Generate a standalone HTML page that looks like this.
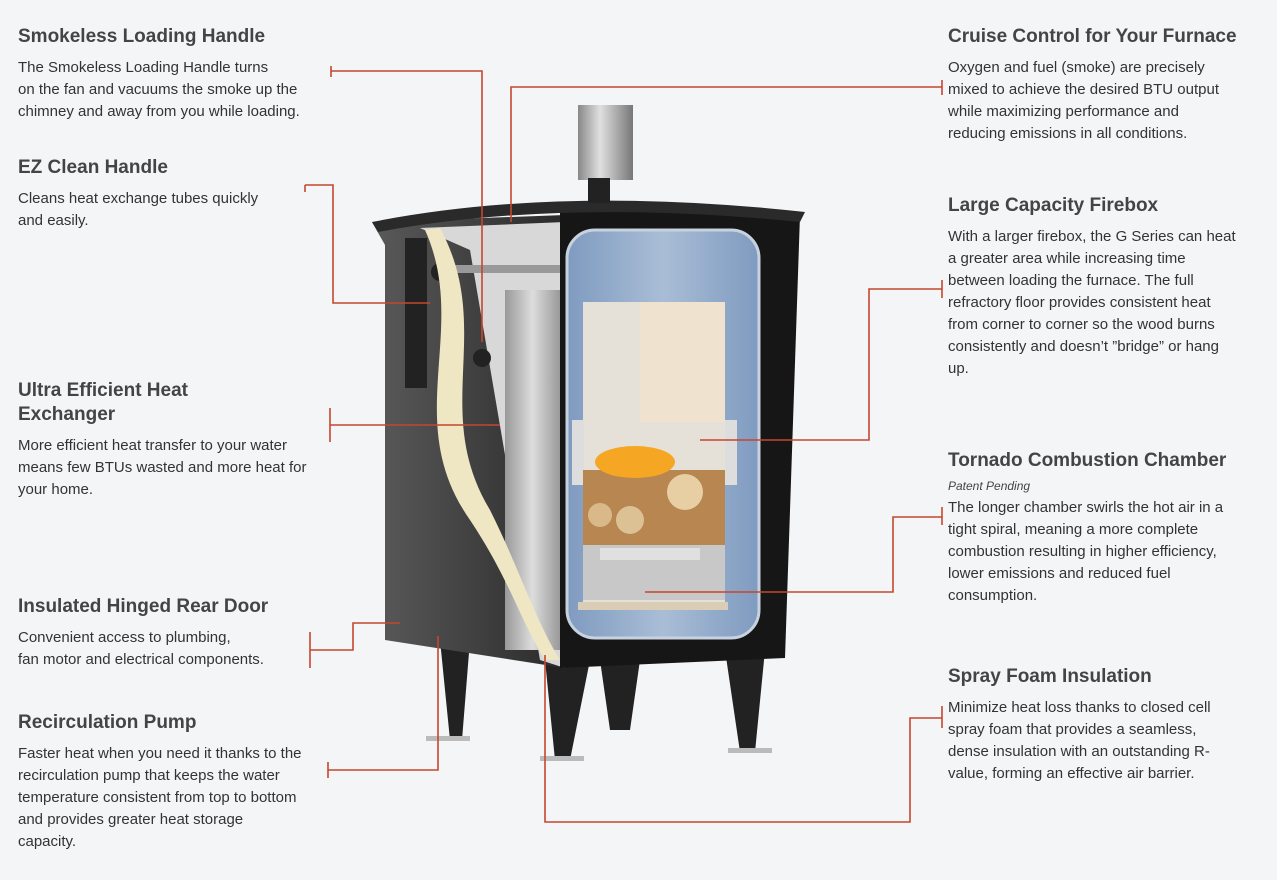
<!DOCTYPE html>
<html><head><meta charset="utf-8"><style>
body{margin:0;width:1277px;height:880px;background:#f4f5f7;font-family:"Liberation Sans",sans-serif;color:#3a3a3a;position:relative;overflow:hidden}
.b{position:absolute;width:320px}
h3{margin:0 0 8px;font-size:19px;font-weight:bold;color:#444;line-height:24px}
p{margin:0;font-size:15px;line-height:22px;color:#333}
i{font-size:12px;display:block;margin:-2px 0 4px;color:#444}
svg{position:absolute;left:0;top:0}
</style></head><body>
<svg width="1277" height="880">
<defs>
<linearGradient id="side" x1="0" x2="1"><stop offset="0" stop-color="#5a5a5a"/><stop offset="1" stop-color="#2a2a2a"/></linearGradient>
<linearGradient id="chim" x1="0" x2="1"><stop offset="0" stop-color="#888"/><stop offset=".4" stop-color="#e0e0e0"/><stop offset="1" stop-color="#777"/></linearGradient>
<linearGradient id="tube" x1="0" x2="1"><stop offset="0" stop-color="#999"/><stop offset=".5" stop-color="#ddd"/><stop offset="1" stop-color="#999"/></linearGradient>
<linearGradient id="win" x1="0" x2="1"><stop offset="0" stop-color="#7f9bc0"/><stop offset=".5" stop-color="#a9bdd6"/><stop offset="1" stop-color="#7f9bc0"/></linearGradient>
</defs>
<!-- legs -->
<polygon points="440,640 470,640 462,740 450,740" fill="#222"/>
<rect x="426" y="736" width="44" height="5" fill="#bbb"/>
<polygon points="545,660 590,660 570,760 555,760" fill="#222"/>
<rect x="540" y="756" width="44" height="5" fill="#bbb"/>
<polygon points="600,660 640,660 630,730 610,730" fill="#222"/>
<polygon points="725,650 765,650 755,752 740,752" fill="#222"/>
<rect x="728" y="748" width="44" height="5" fill="#bbb"/>
<!-- side panel -->
<polygon points="372,222 565,215 565,668 385,640 385,245" fill="url(#side)"/>
<rect x="405" y="238" width="22" height="150" fill="#222"/>
<!-- cutaway interior -->
<polygon points="420,228 565,222 565,668 540,660 470,250" fill="#d8d8d8"/>
<rect x="505" y="290" width="55" height="360" fill="url(#tube)"/>
<rect x="440" y="265" width="120" height="8" fill="#999"/>
<circle cx="440" cy="272" r="9" fill="#222"/>
<circle cx="482" cy="358" r="9" fill="#222"/>
<path d="M425,230 C470,330 400,420 470,520 C510,580 520,620 545,660 L560,660 C535,620 520,570 490,510 C430,410 495,330 440,228 Z" fill="#efe6c4"/>
<!-- front -->
<polygon points="560,205 800,215 785,658 560,668" fill="#161616"/>
<path d="M372,222 Q560,185 805,212 L800,222 Q560,198 378,232 Z" fill="#2a2a2a"/>
<rect x="567" y="230" width="192" height="408" rx="28" fill="url(#win)" stroke="#c8d2de" stroke-width="3"/>
<rect x="583" y="302" width="142" height="300" fill="#e6e1d8"/>
<rect x="640" y="302" width="85" height="120" fill="#efe3cf"/>
<rect x="572" y="420" width="12" height="65" fill="#ddd"/>
<rect x="725" y="420" width="12" height="65" fill="#ddd"/>
<rect x="583" y="470" width="142" height="75" fill="#b88650"/>
<circle cx="685" cy="492" r="18" fill="#e8cfa3"/>
<circle cx="630" cy="520" r="14" fill="#dcc194"/>
<circle cx="600" cy="515" r="12" fill="#d9b98a"/>
<ellipse cx="635" cy="462" rx="40" ry="16" fill="#f5a623"/>
<rect x="583" y="545" width="142" height="55" fill="#c8c8c8"/>
<rect x="600" y="548" width="100" height="12" fill="#e0e0e0"/>
<rect x="578" y="602" width="150" height="8" fill="#d9cdb5"/>
<!-- chimney -->
<rect x="578" y="105" width="55" height="75" fill="url(#chim)"/>
<rect x="588" y="178" width="22" height="25" fill="#222"/>
</svg>
<svg width="1277" height="880" fill="none" stroke="#c4472f" stroke-width="1.6">
<path d="M331,66V77M331,71H482V342"/>
<path d="M305,185H333V303H430M305,185V192"/>
<path d="M330,408V442M330,425H500"/>
<path d="M310,632V668M310,650H353V623H400"/>
<path d="M328,762V778M328,770H438V636"/>
<path d="M942,80V95M942,87H511V222"/>
<path d="M942,280V298M942,289H869V440H700"/>
<path d="M942,507V525M942,517H893V592H645"/>
<path d="M942,706V728M942,718H910V822H545V655"/>
</svg>
<div class="b" style="left:18px;top:25px"><h3>Smokeless Loading Handle</h3><p>The Smokeless Loading Handle turns<br>on the fan and vacuums the smoke up the<br>chimney and away from you while loading.</p></div>
<div class="b" style="left:18px;top:156px"><h3>EZ Clean Handle</h3><p>Cleans heat exchange tubes quickly<br>and easily.</p></div>
<div class="b" style="left:18px;top:379px"><h3>Ultra Efficient Heat<br>Exchanger</h3><p>More efficient heat transfer to your water<br>means few BTUs wasted and more heat for<br>your home.</p></div>
<div class="b" style="left:18px;top:595px"><h3>Insulated Hinged Rear Door</h3><p>Convenient access to plumbing,<br>fan motor and electrical components.</p></div>
<div class="b" style="left:18px;top:711px"><h3>Recirculation Pump</h3><p>Faster heat when you need it thanks to the<br>recirculation pump that keeps the water<br>temperature consistent from top to bottom<br>and provides greater heat storage<br>capacity.</p></div>
<div class="b" style="left:948px;top:25px"><h3>Cruise Control for Your Furnace</h3><p>Oxygen and fuel (smoke) are precisely<br>mixed to achieve the desired BTU output<br>while maximizing performance and<br>reducing emissions in all conditions.</p></div>
<div class="b" style="left:948px;top:194px"><h3>Large Capacity Firebox</h3><p>With a larger firebox, the G Series can heat<br>a greater area while increasing time<br>between loading the furnace. The full<br>refractory floor provides consistent heat<br>from corner to corner so the wood burns<br>consistently and doesn’t ”bridge” or hang<br>up.</p></div>
<div class="b" style="left:948px;top:449px"><h3>Tornado Combustion Chamber</h3><i>Patent Pending</i><p>The longer chamber swirls the hot air in a<br>tight spiral, meaning a more complete<br>combustion resulting in higher efficiency,<br>lower emissions and reduced fuel<br>consumption.</p></div>
<div class="b" style="left:948px;top:665px"><h3>Spray Foam Insulation</h3><p>Minimize heat loss thanks to closed cell<br>spray foam that provides a seamless,<br>dense insulation with an outstanding R-<br>value, forming an effective air barrier.</p></div>
</body></html>
